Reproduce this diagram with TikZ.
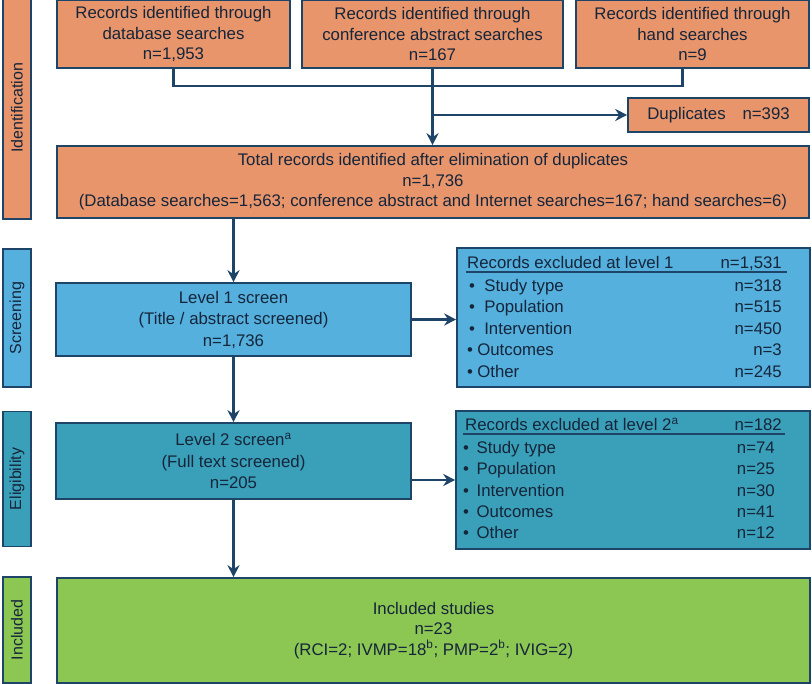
\documentclass[tikz,border=0pt]{standalone}
\usepackage{fontspec}
\setmainfont{Liberation Sans}
\usetikzlibrary{arrows.meta}
\definecolor{cOr}{HTML}{E8956C}
\definecolor{cBl}{HTML}{55B0DE}
\definecolor{cTe}{HTML}{3AA0B9}
\definecolor{cGr}{HTML}{8CC653}
\definecolor{cBd}{HTML}{1E4568}
\definecolor{cTx}{HTML}{15253A}
\tikzset{
  bx/.style={draw=cBd, line width=1.6pt, inner sep=0pt, align=center, text=cTx,
    font=\fontsize{16.8}{20.3}\selectfont},
  side/.style={draw=cBd, line width=1.6pt, inner sep=0pt, text=cTx, rotate=90,
    font=\fontsize{16}{18}\selectfont},
  conn/.style={draw=cBd, line width=2.4pt},
  arr/.style={conn, -{Stealth[length=12pt,width=12pt]}},
  itm/.style={anchor=base west, inner sep=0pt, text=cTx, font=\fontsize{16.8}{19}\selectfont},
  num/.style={anchor=base east, inner sep=0pt, text=cTx, font=\fontsize{16.8}{19}\selectfont}
}
\newcommand{\boxat}[6]{% name, x1,y1,x2,y2, style
  \node[bx,#6, minimum width={#4-#2}, minimum height={#5-#3}] (#1) at ({(#2+#4)/2},{(#3+#5)/2})}
\begin{document}
\begin{tikzpicture}[x=1pt,y=-1pt]
\useasboundingbox (0,0) rectangle (812,684);
\begin{scope}
\clip (0,0) rectangle (812,684);
% side labels
\node[side, fill=cOr, minimum width=222pt, minimum height=28pt] (sId) at (17,108) {Identification};
\node[side, fill=cBl, minimum width=138pt, minimum height=28pt] (sSc) at (17,318) {Screening};
\node[side, fill=cTe, minimum width=135pt, minimum height=28pt] (sEl) at (17,479) {Eligibility};
\node[side, fill=cGr, minimum width=106pt, minimum height=28pt] (sIn) at (17,630) {Included};
% top boxes
\boxat{b1}{57}{0}{290}{68}{fill=cOr}{Records identified through\\database searches\\n=1,953};
\boxat{b2}{302}{0}{563}{68}{fill=cOr}{Records identified through\\conference abstract searches\\n=167};
\boxat{b3}{576}{0}{809}{68}{fill=cOr}{Records identified through\\hand searches\\n=9};
\boxat{dup}{628}{98}{809}{132}{fill=cOr}{Duplicates\hspace{1.0em}n=393};
\boxat{tot}{57}{146}{809}{218}{fill=cOr,font=\fontsize{16.8}{20.6}\selectfont}{Total records identified after elimination of duplicates\\n=1,736\\(Database searches=1,563; conference abstract and Internet searches=167; hand searches=6)};
\boxat{l1}{56}{283}{411}{356}{fill=cBl,font=\fontsize{16.8}{21.5}\selectfont}{Level 1 screen\\(Title / abstract screened)\\n=1,736};
\boxat{ex1}{457}{248}{810}{387}{fill=cBl}{};
\boxat{l2}{56}{423}{411}{499}{fill=cTe,font=\fontsize{16.8}{21.5}\selectfont}{Level 2 screen\textsuperscript{a}\\(Full text screened)\\n=205};
\boxat{ex2}{456}{411}{810}{549}{fill=cTe}{};
\boxat{inc}{57}{578}{810}{683}{fill=cGr}{Included studies\\n=23\\(RCI=2; IVMP=18\textsuperscript{b}; PMP=2\textsuperscript{b}; IVIG=2)};
\end{scope}
% excluded level 1 contents
\node[itm] (h1) at (467,269) {Records excluded at level 1};
\node[num] (h1n) at (782,269) {n=1,531};
\draw[cBd, line width=1.3pt] (466,272) -- (787,272);
\node[itm] (a1) at (469,292) {•\hspace{0.55em}Study type};
\node[itm] (a2) at (469,313) {•\hspace{0.55em}Population};
\node[itm] (a3) at (469,335) {•\hspace{0.55em}Intervention};
\node[itm] (a4) at (467,356) {•\hspace{0.25em}Outcomes};
\node[itm] (a5) at (467,378) {•\hspace{0.25em}Other};
\node[num] (n1) at (782,292) {n=318};
\node[num] (n2) at (782,313) {n=515};
\node[num] (n3) at (782,335) {n=450};
\node[num] (n4) at (782,356) {n=3};
\node[num] (n5) at (782,378) {n=245};
% excluded level 2 contents
\node[itm] (h2) at (465,431) {Records excluded at level 2\textsuperscript{a}};
\node[num] (h2n) at (782,431) {n=182};
\draw[cBd, line width=1.3pt] (463,434) -- (785,434);
\node[itm] (c1) at (463,454) {•\hspace{0.45em}Study type};
\node[itm] (c2) at (463,475) {•\hspace{0.45em}Population};
\node[itm] (c3) at (463,497) {•\hspace{0.45em}Intervention};
\node[itm] (c4) at (463,518) {•\hspace{0.45em}Outcomes};
\node[itm] (c5) at (463,539) {•\hspace{0.45em}Other};
\node[num] (m1) at (775,454) {n=74};
\node[num] (m2) at (775,475) {n=25};
\node[num] (m3) at (775,497) {n=30};
\node[num] (m4) at (775,518) {n=41};
\node[num] (m5) at (775,539) {n=12};
% connectors
\coordinate (j3) at ([xshift=-10pt]b3.south);
\coordinate (jy) at (0,86);
\draw[conn] (b1.south) -- (b1.south |- jy) -- (j3 |- jy) -- (j3);
\draw[arr] (b2.south) -- (b2.south |- tot.north);
\draw[arr] (b2.south |- dup.west) -- (dup.west);
\draw[arr] (tot.south -| l1.north) -- (l1.north);
\draw[arr] (l1.east) -- (l1.east -| ex1.west);
\draw[arr] (l1.south) -- (l2.north);
\draw[arr] (ex2.west -| l2.east) -- (ex2.west);
\draw[arr] (l2.south) -- (l2.south |- inc.north);
\end{tikzpicture}
\end{document}
